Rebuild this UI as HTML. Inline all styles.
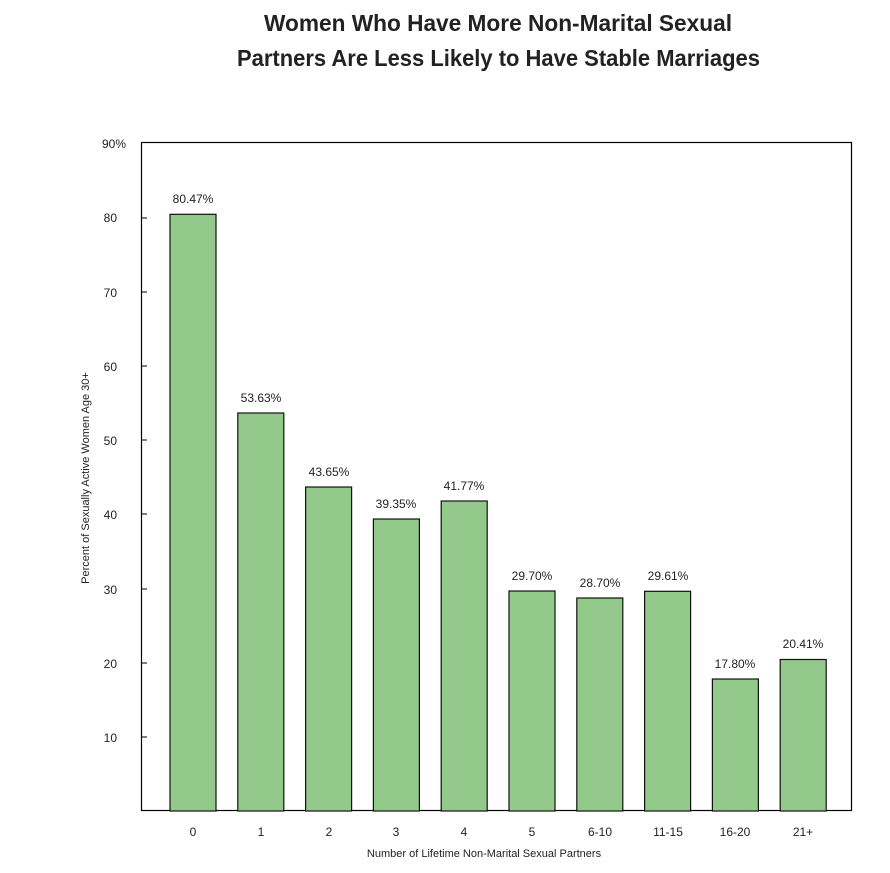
<!DOCTYPE html>
<html><head><meta charset="utf-8"><style>
body{margin:0;background:#fff;}
svg text{font-family:"Liberation Sans",sans-serif;fill:#222;}
</style></head><body>
<svg width="890" height="868" xmlns="http://www.w3.org/2000/svg">
<text x="264" y="31" font-size="23" font-weight="bold" textLength="468" lengthAdjust="spacingAndGlyphs">Women Who Have More Non-Marital Sexual</text>
<text x="237" y="66" font-size="23" font-weight="bold" textLength="523" lengthAdjust="spacingAndGlyphs">Partners Are Less Likely to Have Stable Marriages</text>
<rect x="141.5" y="142.5" width="710" height="668" fill="none" stroke="#000" stroke-width="1.2"/>
<g font-size="12" text-anchor="end">
<text x="126" y="148">90%</text>
<text x="117" y="222">80</text>
<text x="117" y="297">70</text>
<text x="117" y="371">60</text>
<text x="117" y="445">50</text>
<text x="117" y="519">40</text>
<text x="117" y="594">30</text>
<text x="117" y="668">20</text>
<text x="117" y="742">10</text>
</g>
<g stroke="#000" stroke-width="1">
<line x1="141" y1="218" x2="147" y2="218"/><line x1="141" y1="292" x2="147" y2="292"/><line x1="141" y1="366" x2="147" y2="366"/><line x1="141" y1="440" x2="147" y2="440"/><line x1="141" y1="514" x2="147" y2="514"/><line x1="141" y1="589" x2="147" y2="589"/><line x1="141" y1="663" x2="147" y2="663"/><line x1="141" y1="737" x2="147" y2="737"/>
</g>
<g fill="#93c98a" stroke="#111" stroke-width="1.2">
<rect x="170" y="214.3" width="46" height="596.7"/>
<rect x="237.8" y="413" width="46" height="398"/>
<rect x="305.6" y="487" width="46" height="324"/>
<rect x="373.4" y="519" width="46" height="292"/>
<rect x="441.2" y="501" width="46" height="310"/>
<rect x="509" y="591" width="46" height="220"/>
<rect x="576.8" y="598" width="46" height="213"/>
<rect x="644.6" y="591.3" width="46" height="219.7"/>
<rect x="712.4" y="679" width="46" height="132"/>
<rect x="780.2" y="659.5" width="46" height="151.5"/>
</g>
<g font-size="12" text-anchor="middle">
<text x="193" y="203">80.47%</text>
<text x="261" y="402">53.63%</text>
<text x="329" y="476">43.65%</text>
<text x="396" y="508">39.35%</text>
<text x="464" y="490">41.77%</text>
<text x="532" y="580">29.70%</text>
<text x="600" y="587">28.70%</text>
<text x="668" y="580">29.61%</text>
<text x="735" y="668">17.80%</text>
<text x="803" y="648">20.41%</text>
</g>
<g font-size="12" text-anchor="middle">
<text x="193" y="836">0</text><text x="261" y="836">1</text><text x="329" y="836">2</text><text x="396" y="836">3</text><text x="464" y="836">4</text><text x="532" y="836">5</text><text x="600" y="836">6-10</text><text x="668" y="836">11-15</text><text x="735" y="836">16-20</text><text x="803" y="836">21+</text>
</g>
<text x="484" y="857" font-size="11" text-anchor="middle">Number of Lifetime Non-Marital Sexual Partners</text>
<text transform="translate(89,478) rotate(-90)" font-size="11" text-anchor="middle">Percent of Sexually Active Women Age 30+</text>
</svg>
</body></html>
